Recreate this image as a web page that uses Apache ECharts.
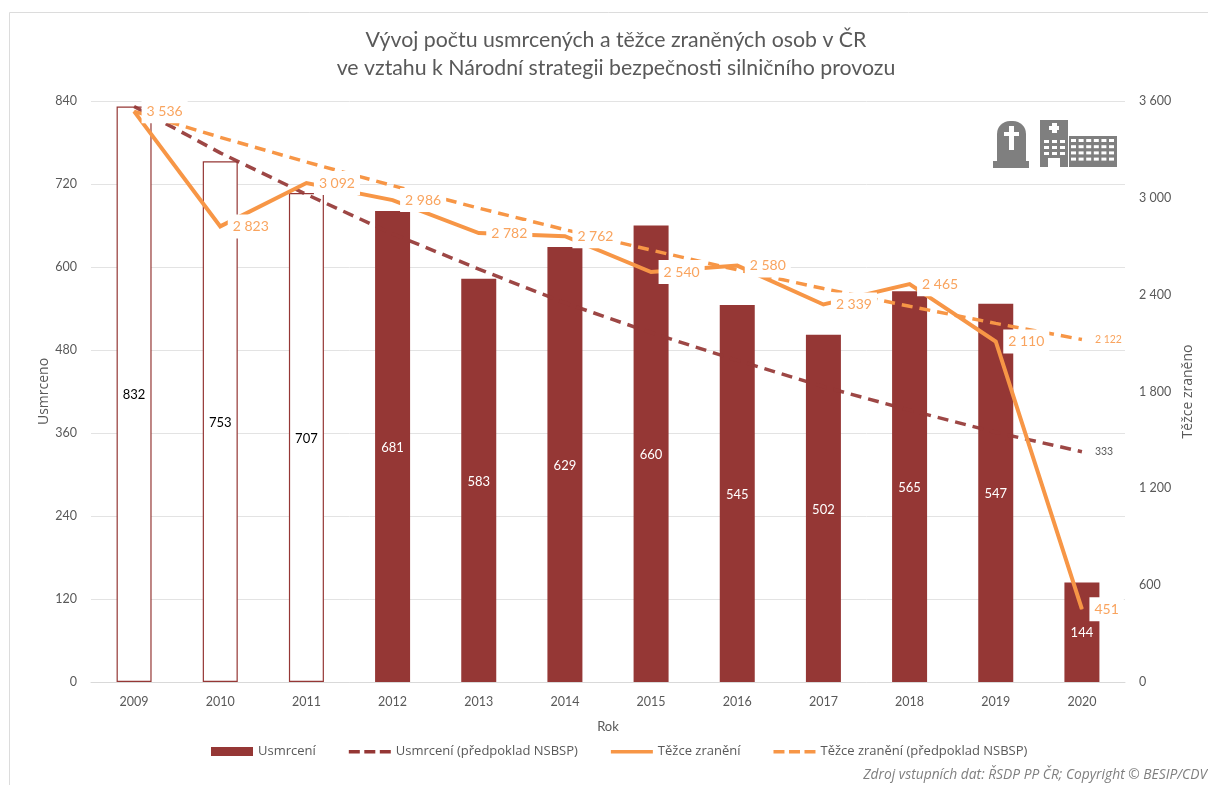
<!DOCTYPE html>
<html><head><meta charset="utf-8">
<style>html,body{margin:0;padding:0;background:#fff}#c{width:1208px;height:785px}</style>
<script src="https://cdn.jsdelivr.net/npm/echarts@6/dist/echarts.min.js"></script>
</head><body><div id="c"></div>
<script>
const years=['2009','2010','2011','2012','2013','2014','2015','2016','2017','2018','2019','2020'];
const killed=[832,753,707,681,583,629,660,545,502,565,547,144];
const killedPlan=[832,765,705,648,597,548,505,465,427,393,361,333];
const injured=[3536,2823,3092,2986,2782,2762,2540,2580,2339,2465,2110,451];
const injuredPlan=[3536,3375,3222,3076,2936,2803,2676,2554,2438,2328,2222,2122];
const hollowBars=3;

const FONT='Lato, "Open Sans", sans-serif';
const WIDE='"Open Sans", sans-serif';
const RED='#953735', ORANGE='#f79646', TXT='#595959', LBL='#f9a45f', ICON='#7f7f7f';
const thousands=v=>String(v).replace(/\B(?=(\d{3})+$)/g,' ');

const ICON_BOX='M0 0h0M0 9h0';
const LEG_DASH='path://'+ICON_BOX+'M0 3h11v3.4H0zM15.5 3h11v3.4h-11zM31 3h11v3.4H31z';
const LEG_LINE='path://'+ICON_BOX+'M0 3h42v3.4H0z';
const LEG_BAR='path://'+ICON_BOX+'M0 0h42v9H0z';

const icons=[];
function r(x,y,w,h,fill,rr){icons.push({type:'rect',z:50,shape:{x,y,width:w,height:h,r:rr||0},style:{fill:fill||ICON}});}
r(997,121,29,42,ICON,[13,13,0,0]); r(993,161,36,7);
r(1009,126,5,24,'#fff'); r(1004,132,15,4,'#fff');
r(1040,120,28,47); r(1069,136,48,31);
r(1052,123,5,10,'#fff'); r(1049,126,10,4,'#fff');
for(let j=0;j<3;j++)for(let i=0;i<3;i++){r(1044+i*8,140+j*6,5,3,'#fff');}
r(1048,158,12,9,'#fff');
for(let j=0;j<4;j++)for(let i=0;i<6;i++){r(1071+i*7.6,139+j*6.2,5,3,'#fff');}

const option={
 animation:false,
 backgroundColor:'#fff',
 textStyle:{fontFamily:FONT},
 title:{left:611,top:21,textAlign:'center',
  text:'Vývoj počtu usmrcených a těžce zraněných osob v ČR\nve vztahu k Národní strategii bezpečnosti silničního provozu',
  textStyle:{fontFamily:FONT,fontSize:21.3,fontWeight:'normal',color:'#595959',lineHeight:28}},
 grid:{left:91,right:83,top:101,bottom:103,outerBoundsMode:'none'},
 legend:{left:211,top:745,padding:0,itemWidth:42,itemHeight:9,itemGap:33,
  textStyle:{fontFamily:WIDE,fontSize:13,color:TXT,padding:[0,0,0,0]},
  data:[{name:'Usmrcení',icon:LEG_BAR},{name:'Usmrcení (předpoklad NSBSP)',icon:LEG_DASH},
        {name:'Těžce zranění',icon:LEG_LINE},{name:'Těžce zranění (předpoklad NSBSP)',icon:LEG_DASH}]},
 xAxis:{type:'category',data:years,name:'Rok',nameLocation:'middle',nameGap:38,
  nameTextStyle:{color:TXT,fontSize:13,fontFamily:FONT},
  axisTick:{show:false},axisLine:{lineStyle:{color:'#d9d9d9'}},
  axisLabel:{color:TXT,fontSize:12.5,margin:13,fontFamily:FONT}},
 yAxis:[
  {type:'value',min:0,max:840,interval:120,name:'Usmrceno',nameLocation:'middle',nameGap:40,nameMoveOverlap:false,
   nameTextStyle:{color:TXT,fontSize:14,fontFamily:WIDE},
   axisLabel:{color:TXT,fontSize:12.5,margin:14,fontFamily:FONT},
   axisLine:{show:false},axisTick:{show:false},splitLine:{lineStyle:{color:'#e3e3e3',width:1}}},
  {type:'value',min:0,max:3600,interval:600,name:'Těžce zraněno',nameLocation:'middle',nameGap:56,nameMoveOverlap:false,
   nameTextStyle:{color:TXT,fontSize:14,fontFamily:WIDE},
   axisLabel:{color:TXT,fontSize:12.5,margin:14,fontFamily:FONT,formatter:thousands},
   axisLine:{show:false},axisTick:{show:false},splitLine:{show:false}}
 ],
 series:[
  {name:'Usmrcení',type:'bar',barWidth:35,z:2,itemStyle:{color:RED},
   data:killed.map((v,i)=>i<hollowBars?{value:v,itemStyle:{color:'#fff',borderColor:RED,borderWidth:1.2},label:{color:'#000'}}:v),
   label:{show:true,position:'inside',offset:[0,1],color:'#fff',fontSize:13,fontFamily:FONT}},
  {name:'Usmrcení (předpoklad NSBSP)',type:'line',data:killedPlan,z:3,symbol:'none',
   lineStyle:{color:RED,width:3.5,type:[11,7],opacity:.92},itemStyle:{color:RED},
   endLabel:{show:true,color:TXT,fontSize:10.5,fontFamily:FONT,distance:13}},
  {name:'Těžce zranění (předpoklad NSBSP)',type:'line',yAxisIndex:1,data:injuredPlan,z:4,symbol:'none',
   lineStyle:{color:ORANGE,width:3.5,type:[11,7]},itemStyle:{color:ORANGE},
   endLabel:{show:true,color:LBL,fontSize:10.5,fontFamily:FONT,distance:13,formatter:p=>thousands(p.value)}},
  {name:'Těžce zranění',type:'line',yAxisIndex:1,data:injured,z:5,symbol:'circle',symbolSize:1,showSymbol:true,showAllSymbol:true,
   lineStyle:{color:ORANGE,width:4,join:'miter'},itemStyle:{color:ORANGE},
   label:{show:true,position:'right',distance:7,color:LBL,fontSize:14,fontFamily:FONT,
    backgroundColor:'#fff',padding:[5,5],formatter:p=>thousands(p.value)}}
 ],
 graphic:[
  {type:'line',silent:true,z:0,shape:{x1:9.5,y1:12.5,x2:1208,y2:12.5},style:{stroke:'#dcdcdc',lineWidth:1}},
  {type:'line',silent:true,z:0,shape:{x1:9.5,y1:12.5,x2:9.5,y2:785},style:{stroke:'#dcdcdc',lineWidth:1}},
  {type:'group',silent:true,children:icons},
  {type:'text',z:60,right:1,top:768,style:{text:'Zdroj vstupních dat: ŘSDP PP ČR; Copyright © BESIP/CDV',
    fill:'#7f7f7f',font:'italic 13.8px "Open Sans", sans-serif'}}
 ]
};
echarts.init(document.getElementById('c')).setOption(option);
</script></body></html>
